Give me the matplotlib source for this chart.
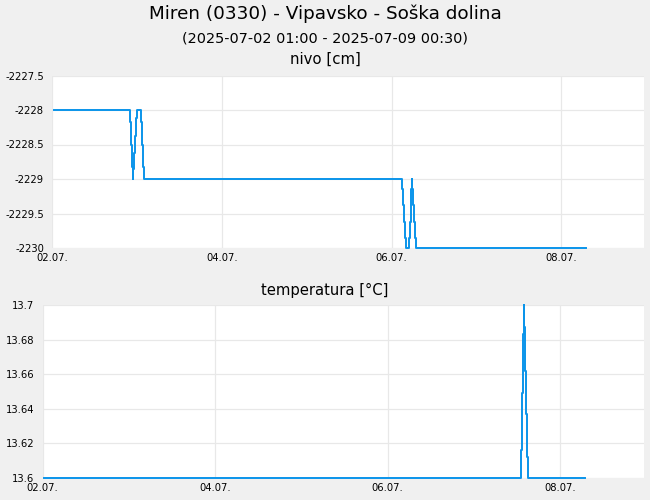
import numpy as np
import pandas as pd
import matplotlib
matplotlib.use("Agg")
import matplotlib.pyplot as plt
import matplotlib.dates as mdates
from matplotlib.ticker import FormatStrFormatter

# water level [cm], step series
level_time = ["2025-07-02 00:20", "2025-07-02 21:51", "2025-07-02 22:20",
              "2025-07-02 22:30", "2025-07-02 22:47", "2025-07-02 22:54",
              "2025-07-02 23:04", "2025-07-02 23:16", "2025-07-02 23:33",
              "2025-07-02 23:50", "2025-07-03 01:10", "2025-07-03 01:27",
              "2025-07-03 01:44", "2025-07-03 02:00", "2025-07-06 02:50",
              "2025-07-06 03:17", "2025-07-06 03:34", "2025-07-06 03:46",
              "2025-07-06 03:58", "2025-07-06 04:54", "2025-07-06 05:11",
              "2025-07-06 05:23", "2025-07-06 05:33", "2025-07-06 05:45",
              "2025-07-06 05:50", "2025-07-06 06:07", "2025-07-06 06:24",
              "2025-07-06 06:36", "2025-07-06 06:48", "2025-07-08 06:54"]
level_val = [-2228.0, -2228.17, -2228.5, -2228.83, -2229.0, -2228.86,
             -2228.63, -2228.37, -2228.12, -2228.0, -2228.17, -2228.5,
             -2228.83, -2229.0, -2229.14, -2229.37, -2229.62, -2229.86,
             -2230.0, -2229.86, -2229.62, -2229.37, -2229.14, -2229.0,
             -2229.14, -2229.37, -2229.62, -2229.86, -2230.0, -2230.0]

# water temperature [°C]
temp_time = ["2025-07-02 00:20", "2025-07-07 13:00", "2025-07-07 13:17",
             "2025-07-07 13:34", "2025-07-07 13:50", "2025-07-07 13:57",
             "2025-07-07 14:07", "2025-07-07 14:24", "2025-07-07 14:41",
             "2025-07-07 14:58", "2025-07-08 07:00"]
temp_val = [13.6, 13.616, 13.649, 13.683, 13.7, 13.687, 13.662, 13.637,
            13.612, 13.6, 13.6]

level_ticks = [-2230, -2229.5, -2229, -2228.5, -2228, -2227.5]
temp_ticks = [13.6, 13.62, 13.64, 13.66, 13.68, 13.7]
day_ticks = ["2025-07-02", "2025-07-04", "2025-07-06", "2025-07-08"]

BLUE = "#0a94ea"
BG = "#f0f0f0"
GRID = "#e8e8e8"

plt.rcParams["axes.unicode_minus"] = False
plt.rcParams["font.family"] = "DejaVu Sans"

fig = plt.figure(figsize=(6.5, 5), dpi=100, facecolor=BG)
ax1 = fig.add_axes([0.0805, 0.504, 0.911, 0.345])
ax2 = fig.add_axes([0.0657, 0.044, 0.9258, 0.346])

xlim = (pd.Timestamp("2025-07-02 00:00"), pd.Timestamp("2025-07-08 23:30"))

for ax, t, v, ticks in ((ax1, level_time, level_val, level_ticks),
                        (ax2, temp_time, temp_val, temp_ticks)):
    ax.plot(pd.to_datetime(t), v, drawstyle="steps-post", color=BLUE,
            lw=1.4, clip_on=False, zorder=3)
    ax.set_xlim(xlim)
    ax.set_ylim(ticks[0], ticks[-1])
    ax.set_yticks(ticks)
    ax.yaxis.set_major_formatter(FormatStrFormatter("%g"))
    ax.set_xticks(pd.to_datetime(day_ticks))
    ax.xaxis.set_major_formatter(mdates.DateFormatter("%d.%m."))
    ax.tick_params(length=0, labelsize=7.2, pad=3.5)
    ax.tick_params(axis="y", pad=6)
    ax.grid(True, color=GRID, lw=0.9)
    ax.set_axisbelow(True)
    for s in ax.spines.values():
        s.set_visible(False)

fig.text(0.5, 1 - 19.3 / 500, "Miren (0330) - Vipavsko - Soška dolina",
         ha="center", va="baseline", fontsize=13.2)
fig.text(0.5, 1 - 42.7 / 500, "(2025-07-02 01:00 - 2025-07-09 00:30)",
         ha="center", va="baseline", fontsize=10.4)
fig.text(0.5, 1 - 63.5 / 500, "nivo [cm]", ha="center", va="baseline",
         fontsize=10.7)
fig.text(0.5, 1 - 295 / 500, "temperatura [°C]", ha="center",
         va="baseline", fontsize=10.6)

fig.savefig("out.png", dpi=100, facecolor=BG)
